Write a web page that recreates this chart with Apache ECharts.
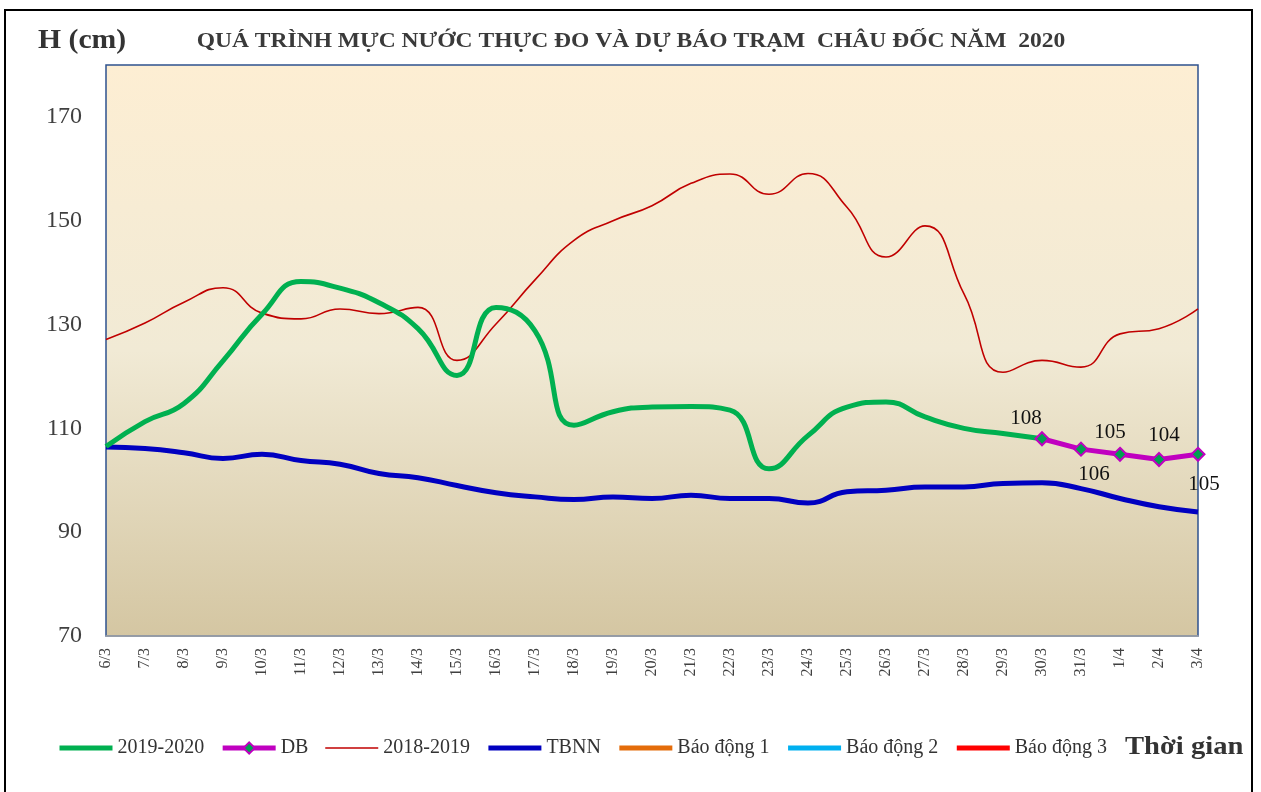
<!DOCTYPE html>
<html>
<head>
<meta charset="utf-8">
<title>Châu Đốc 2020</title>
<script src="https://cdn.jsdelivr.net/npm/echarts@6/dist/echarts.min.js"></script>
<style>
  html, body { margin: 0; padding: 0; background: #fff; }
  #chart { width: 1261px; height: 792px; }
</style>
</head>
<body>
<div id="chart"></div>
<script>
// ngày (trục hoành)
var days = ['6/3', '7/3', '8/3', '9/3', '10/3', '11/3', '12/3', '13/3', '14/3', '15/3',
  '16/3', '17/3', '18/3', '19/3', '20/3', '21/3', '22/3', '23/3', '24/3', '25/3',
  '26/3', '27/3', '28/3', '29/3', '30/3', '31/3', '1/4', '2/4', '3/4']

// mực nước thực đo 2019-2020 (đến 30/3)
var h2020 = [106.5, 111.3, 114.8, 123, 132, 138.3, 137, 134.2, 129.2, 120.2,
  133.3, 128.8, 110.6, 113.2, 114.1, 114.2, 113.5, 102.2, 108.6, 114.1,
  115.1, 112.2, 110, 109, 108]

// dự báo (30/3 -> 3/4)
var dbStart = 24
var dbValues = [108, 106, 105, 104, 105]

// cùng kỳ 2018-2019
var h2019 = [127.1, 130.3, 134.3, 137.1, 132.2, 131.1, 133, 132.1, 133.3, 123.1,
  130.1, 138.6, 146.2, 150, 152.9, 157.2, 159, 155.1, 159.1, 152.6,
  143, 149, 135.9, 120.8, 123.1, 121.8, 128.2, 129.2, 133]

// trung bình nhiều năm
var tbnn = [106.4, 106.1, 105.3, 104.2, 105, 103.8, 103.1, 101.3, 100.5, 99,
  97.6, 96.8, 96.3, 96.8, 96.5, 97.1, 96.5, 96.5, 95.6, 97.8,
  98.1, 98.7, 98.7, 99.4, 99.5, 98.4, 96.5, 94.9, 93.9]

var yMin = 70
var yMax = 180
var yStep = 20

var serif = 'Liberation Serif'

var myChart = echarts.init(document.getElementById('chart'))

// vị trí nhãn của các điểm dự báo (lệch so với điểm)
var dbLabelOffset = [[-16, -20], [13, 25], [-10, -22], [5, -24], [6, 30]]
var dbData = days.map(function (d, i) {
  var k = i - dbStart
  if (k < 0 || k >= dbValues.length) return '-'
  return {
    value: dbValues[k],
    label: { show: true, position: 'inside', offset: dbLabelOffset[k] }
  }
})

// chú giải: chỉ vẽ đường, không vẽ ký hiệu (trừ DB)
var noMark = { color: 'rgba(0,0,0,0)', borderWidth: 0 }

var option = {
  animation: false,
  textStyle: { fontFamily: serif },
  legend: {
    left: 52,
    top: 733,
    itemWidth: 53,
    itemHeight: 14,
    itemGap: 16,
    lineStyle: { width: 'inherit' },
    textStyle: { fontFamily: serif, fontSize: 20, color: '#333' },
    data: [
      { name: '2019-2020', itemStyle: noMark },
      { name: 'DB' },
      { name: '2018-2019', itemStyle: noMark },
      { name: 'TBNN', itemStyle: noMark },
      { name: 'Báo động 1', itemStyle: noMark },
      { name: 'Báo động 2', itemStyle: noMark },
      { name: 'Báo động 3', itemStyle: noMark }
    ]
  },
  grid: {
    left: 106,
    right: 63,
    top: 65,
    bottom: 156,
    show: true,
    borderColor: '#2e528f',
    borderWidth: 1.5,
    backgroundColor: {
      type: 'linear', x: 0, y: 0, x2: 0, y2: 1,
      colorStops: [
        { offset: 0, color: '#fdeed3' },
        { offset: 0.5, color: '#f1ead5' },
        { offset: 1, color: '#d4c6a2' }
      ]
    }
  },
  xAxis: {
    type: 'category',
    boundaryGap: false,
    data: days,
    axisLine: { lineStyle: { color: '#a9a9a9', width: 1.5 } },
    axisTick: { show: false },
    axisLabel: { rotate: 90, fontFamily: serif, fontSize: 16, color: '#404040', margin: 12, interval: 0 }
  },
  yAxis: {
    type: 'value',
    min: yMin,
    max: yMax,
    interval: yStep,
    splitLine: { show: false },
    axisLine: { show: false },
    axisTick: { show: false },
    axisLabel: { fontFamily: serif, fontSize: 24, color: '#404040', margin: 24, showMaxLabel: false }
  },
  graphic: [
    {
      type: 'rect',
      shape: { x: 5, y: 10, width: 1247, height: 800 },
      style: { fill: 'none', stroke: '#000', lineWidth: 2 }
    },
    {
      type: 'text', x: 631, y: 42, scaleX: 1.12,
      style: {
        text: 'QUÁ TRÌNH MỰC NƯỚC THỰC ĐO VÀ DỰ BÁO TRẠM  CHÂU ĐỐC NĂM  2020',
        align: 'center', verticalAlign: 'middle',
        fontFamily: serif, fontSize: 21, fontWeight: 'bold', fill: '#3a3a3a'
      }
    },
    {
      type: 'text', x: 38, y: 41, scaleX: 1.06,
      style: { text: 'H (cm)', verticalAlign: 'middle', fontFamily: serif, fontSize: 28, fontWeight: 'bold', fill: '#333' }
    },
    {
      type: 'text', x: 1125, y: 747, scaleX: 1.1,
      style: { text: 'Thời gian', verticalAlign: 'middle', fontFamily: serif, fontSize: 26, fontWeight: 'bold', fill: '#333' }
    }
  ],
  series: [
    {
      name: '2019-2020',
      type: 'line',
      smooth: 0.5,
      symbol: 'none',
      data: h2020,
      lineStyle: { color: '#00b050', width: 5 },
      itemStyle: { color: '#00b050' },
      z: 4
    },
    {
      name: 'DB',
      type: 'line',
      symbol: 'diamond',
      symbolSize: 13,
      data: dbData,
      lineStyle: { color: '#c000c0', width: 5 },
      itemStyle: { color: '#00a050', borderColor: '#c000c0', borderWidth: 2 },
      label: { fontFamily: serif, fontSize: 21, color: '#111' },
      z: 5
    },
    {
      name: '2018-2019',
      type: 'line',
      smooth: 0.5,
      symbol: 'none',
      data: h2019,
      lineStyle: { color: '#c00000', width: 1.6 },
      itemStyle: { color: '#c00000' },
      z: 3
    },
    {
      name: 'TBNN',
      type: 'line',
      smooth: 0.5,
      symbol: 'none',
      data: tbnn,
      lineStyle: { color: '#0000c0', width: 5 },
      itemStyle: { color: '#0000c0' },
      z: 3
    },
    {
      name: 'Báo động 1', type: 'line', symbol: 'none', data: [],
      lineStyle: { color: '#e46c0a', width: 5 }, itemStyle: { color: '#e46c0a' }
    },
    {
      name: 'Báo động 2', type: 'line', symbol: 'none', data: [],
      lineStyle: { color: '#00b0f0', width: 5 }, itemStyle: { color: '#00b0f0' }
    },
    {
      name: 'Báo động 3', type: 'line', symbol: 'none', data: [],
      lineStyle: { color: '#ff0000', width: 5 }, itemStyle: { color: '#ff0000' }
    }
  ]
}

myChart.setOption(option)
</script>
</body>
</html>
